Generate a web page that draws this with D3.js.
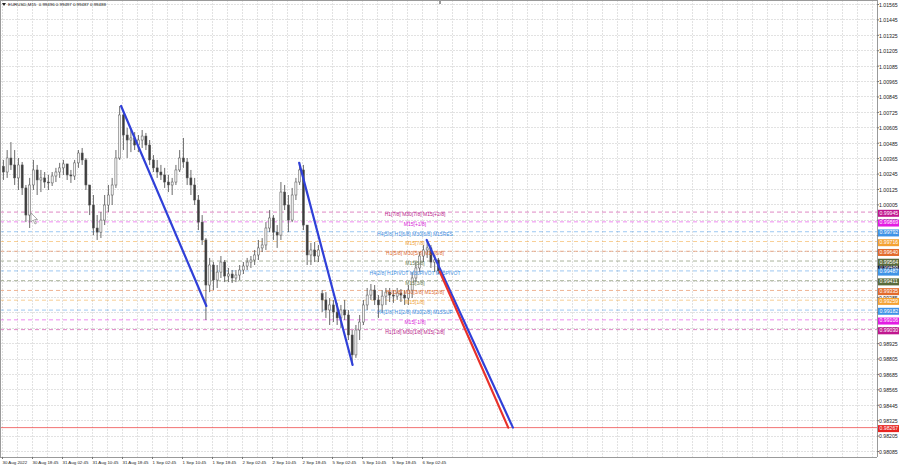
<!DOCTYPE html>
<html><head><meta charset="utf-8">
<script src="https://cdn.jsdelivr.net/npm/d3@7"></script>
<style>
html,body{margin:0;padding:0;background:#fff;overflow:hidden}
svg{display:block}
text{font-family:"Liberation Sans",Arial,sans-serif}
</style>
</head><body>
<svg id="c" width="900" height="468"></svg>
<script>
// ---------------- DATA ----------------
const symbolTitle = "EURUSD,M15  0.99496 0.99497 0.99487 0.99488";
const barsPerCandle = 4; // each drawn candle aggregates 4 M15 bars

const candleOpen = [
1.00300,1.00257,1.00366,1.00312,1.00211,1.00312,1.00133,0.99922,1.00156,1.00273,
1.00195,1.00211,1.00179,1.00172,1.00226,1.00257,1.00289,1.00320,1.00234,1.00226,
1.00328,1.00405,1.00351,1.00156,1.00000,0.99821,0.99789,0.99883,1.00000,1.00078,
1.00156,1.00366,1.00701,1.00545,1.00506,1.00522,1.00467,1.00506,1.00537,1.00467,
1.00351,1.00289,1.00257,1.00234,1.00179,1.00156,1.00179,1.00273,1.00366,1.00335,
1.00211,1.00156,1.00039,0.99867,0.99728,0.99377,0.99533,0.99416,0.99478,0.99556,
0.99447,0.99463,0.99432,0.99455,0.99494,0.99525,0.99556,0.99572,0.99611,0.99666,
0.99689,0.99821,0.99899,0.99789,0.99766,1.00101,1.00000,0.99883,1.00078,1.00179,
1.00273,0.99844,0.99611,0.99650,0.99603,0.99310,0.99261,0.99183,0.99222,0.99167,
0.99121,0.99183,0.99144,0.98988,0.98833,0.99027,0.99089,0.99222,0.99299,0.99338,
0.99261,0.99222,0.99291,0.99322,0.99299,0.99291,0.99315,0.99299,0.99276,0.99338,
0.99432,0.99510,0.99603,0.99650,0.99666,0.99556,0.99572];

const candleHigh = [
1.00351,1.00428,1.00490,1.00428,1.00366,1.00335,1.00156,1.00211,1.00351,1.00312,
1.00273,1.00257,1.00234,1.00257,1.00289,1.00328,1.00351,1.00312,1.00273,1.00351,
1.00428,1.00444,1.00366,1.00156,1.00078,0.99922,0.99945,1.00078,1.00156,1.00211,
1.00428,1.00771,1.00740,1.00600,1.00584,1.00568,1.00545,1.00584,1.00561,1.00506,
1.00389,1.00351,1.00312,1.00289,1.00234,1.00211,1.00312,1.00428,1.00522,1.00366,
1.00273,1.00211,1.00078,0.99922,0.99743,0.99588,0.99556,0.99533,0.99603,0.99572,
0.99510,0.99494,0.99494,0.99533,0.99556,0.99588,0.99603,0.99650,0.99728,0.99743,
0.99867,0.99961,0.99922,0.99844,1.00179,1.00156,1.00078,1.00133,1.00211,1.00335,
1.00312,0.99844,0.99705,0.99712,0.99689,0.99338,0.99322,0.99276,0.99261,0.99238,
0.99222,0.99261,0.99183,0.99027,0.99066,0.99144,0.99261,0.99354,0.99385,0.99377,
0.99299,0.99338,0.99354,0.99354,0.99338,0.99354,0.99346,0.99338,0.99377,0.99478,
0.99556,0.99634,0.99689,0.99728,0.99689,0.99611,0.99588];

const candleLow = [
1.00195,1.00211,1.00273,1.00156,1.00117,1.00078,0.99867,0.99821,1.00117,1.00078,
1.00101,1.00133,1.00117,1.00148,1.00179,1.00211,1.00234,1.00195,1.00172,1.00195,
1.00289,1.00312,1.00117,0.99922,0.99766,0.99728,0.99743,0.99844,0.99945,1.00000,
1.00133,1.00351,1.00428,1.00366,1.00412,1.00428,1.00412,1.00444,1.00428,1.00312,
1.00257,1.00211,1.00195,1.00133,1.00101,1.00078,1.00156,1.00257,1.00289,1.00156,
1.00078,1.00000,0.99805,0.99689,0.99105,0.99322,0.99338,0.99354,0.99432,0.99400,
0.99400,0.99393,0.99400,0.99416,0.99463,0.99494,0.99510,0.99533,0.99572,0.99634,
0.99650,0.99789,0.99728,0.99666,0.99728,0.99961,0.99789,0.99867,1.00039,1.00156,
0.99805,0.99533,0.99533,0.99556,0.99556,0.99167,0.99121,0.99066,0.99089,0.99066,
0.99043,0.99105,0.98949,0.98755,0.98810,0.98949,0.99066,0.99183,0.99261,0.99222,
0.99121,0.99167,0.99222,0.99245,0.99238,0.99261,0.99245,0.99222,0.99222,0.99276,
0.99400,0.99478,0.99556,0.99588,0.99510,0.99478,0.99463];

const candleClose = [
1.00257,1.00366,1.00312,1.00211,1.00312,1.00133,0.99922,1.00156,1.00273,1.00195,
1.00211,1.00179,1.00172,1.00226,1.00257,1.00289,1.00320,1.00234,1.00226,1.00328,
1.00405,1.00351,1.00156,1.00000,0.99821,0.99789,0.99883,1.00000,1.00078,1.00156,
1.00366,1.00701,1.00545,1.00506,1.00522,1.00467,1.00506,1.00537,1.00467,1.00351,
1.00289,1.00257,1.00234,1.00179,1.00156,1.00179,1.00273,1.00366,1.00335,1.00211,
1.00156,1.00039,0.99867,0.99728,0.99377,0.99533,0.99416,0.99478,0.99556,0.99447,
0.99463,0.99432,0.99455,0.99494,0.99525,0.99556,0.99572,0.99611,0.99666,0.99689,
0.99821,0.99899,0.99789,0.99766,1.00101,1.00000,0.99883,1.00078,1.00179,1.00273,
0.99844,0.99611,0.99650,0.99603,0.99650,0.99261,0.99183,0.99222,0.99167,0.99121,
0.99183,0.99144,0.98988,0.98833,0.99027,0.99089,0.99222,0.99299,0.99338,0.99261,
0.99222,0.99291,0.99322,0.99299,0.99291,0.99315,0.99299,0.99276,0.99338,0.99432,
0.99510,0.99603,0.99650,0.99666,0.99556,0.99572,0.99488];

const timeLabels = ["30 Aug 2022","30 Aug 18:45","31 Aug 02:45","31 Aug 10:45","31 Aug 18:45",
"1 Sep 02:45","1 Sep 10:45","1 Sep 18:45","2 Sep 02:45","2 Sep 10:45","2 Sep 18:45",
"5 Sep 02:45","5 Sep 10:45","5 Sep 18:45","6 Sep 02:45"];
const barsPerTimeLabel = 32;

const priceTicks = [1.01565,1.01445,1.01325,1.01205,1.01085,1.00965,1.00845,1.00725,1.00605,1.00485,
1.00365,1.00245,1.00125,1.00005,0.99885,0.99765,0.99645,0.99525,0.99405,0.99285,
0.99165,0.99045,0.98925,0.98805,0.98685,0.98565,0.98445,0.98325,0.98205,0.98085];
// tick labels that are hidden behind the coloured price boxes in the reference
const hiddenTickLabels = [0.99765,0.99645,0.99525,0.99405,0.99165];

const levelPrices = [0.99945,0.99869,0.99792,0.99716,0.99640,0.99564,0.99487,0.99411,0.99335,0.99259,0.99182,0.99106,0.99030];
const levelNames = ["H1[7/8] M30[7/8] M15[+2/8]","M15[+1/8]","H4[5/8] H1[6/8] M30[6/8] M15RES","M15[7/8]",
"H1[5/8] M30[5/8] M15[6/8]","M15[5/8]","H4[2/8] H1PIVOT M30PIVOT M15PIVOT","M15[3/8]",
"H1[3/8] M30[3/8] M15[2/8]","M15[1/8]","H4[1/8] H1[2/8] M30[2/8] M15SUP","M15[-1/8]","H1[1/8] M30[1/8] M15[-2/8]"];
const levelGroup = ["outer2","outer1","key","m15a","mix","m15b","key","m15b","mix","m15a","key","outer1","outer2"];

const bidPrice = 0.99488;
const targetPrice = 0.98267;

// trend lines: [bar index, price]
const trendLines = [
  {kind:"down", from:[127,1.00771], to:[218,0.99214]},
  {kind:"down", from:[317,1.00328], to:[374,0.98755]},
  {kind:"down", from:[453,0.99728], to:[545,0.98267]},
  {kind:"proj", from:[467,0.99481], to:[540,0.98267]}
];

// ---------------- STYLE ----------------
const groupColor = {outer2:"#c0178e", outer1:"#e31ce3", key:"#3f93e6", m15a:"#f4a232", mix:"#e26b2c", m15b:"#5a6b3b"};
const groupText  = {outer2:"#b8208a", outer1:"#d623d6", key:"#3f8ee0", m15a:"#eea23c", mix:"#dc6a30", m15b:"#6a7a50"};
const trendColor = {down:"#3040d8", proj:"#e8322b"};

// ---------------- DRAW ----------------
const plotRight = 877, plotBottom = 457;
const svg = d3.select("#c");

const y = d3.scaleLinear().domain([1.01565, 0.98085]).range([4, 451]);
const barPx = 30 / 32;
const x = d3.scaleLinear().domain([0, 932]).range([2, 2 + 932 * barPx]);

svg.append("defs").append("clipPath").attr("id","plot")
  .append("rect").attr("x",0).attr("y",0).attr("width",plotRight).attr("height",plotBottom);

// grid (light dotted, like MT4)
const grid = svg.append("g").attr("shape-rendering","crispEdges");
grid.selectAll("line.h").data(priceTicks).join("line")
  .attr("x1",0).attr("x2",plotRight).attr("y1",d=>Math.round(y(d))+0.5).attr("y2",d=>Math.round(y(d))+0.5)
  .attr("stroke","#e2e2e2").attr("stroke-width",1).attr("stroke-dasharray","2,1");
const vg = d3.range(0, 932, 16);
grid.selectAll("line.v").data(vg).join("line")
  .attr("x1",d=>Math.round(x(d))+0.5).attr("x2",d=>Math.round(x(d))+0.5).attr("y1",0).attr("y2",plotBottom)
  .attr("stroke","#e2e2e2").attr("stroke-width",1).attr("stroke-dasharray","2,1");

// level lines
const plot = svg.append("g").attr("clip-path","url(#plot)");
plot.selectAll("line.lvl").data(levelPrices).join("line")
  .attr("x1",0).attr("x2",plotRight).attr("y1",d=>y(d)).attr("y2",d=>y(d))
  .attr("stroke",(d,i)=>groupColor[levelGroup[i]]).attr("stroke-width",1)
  .attr("stroke-dasharray","4,3").attr("opacity",0.5);

// target line
plot.append("line").attr("x1",0).attr("x2",plotRight).attr("y1",y(targetPrice)).attr("y2",y(targetPrice))
  .attr("stroke","#f05050").attr("stroke-width",1).attr("opacity",0.8);

// candles
const candles = candleClose.map((c,i)=>({i, o:candleOpen[i], h:candleHigh[i], l:candleLow[i], c}));
const cg = plot.append("g");
const bw = barsPerCandle * barPx * 0.55;
cg.selectAll("line.wick").data(candles).join("line")
  .attr("x1",d=>x(d.i*barsPerCandle+1.5)).attr("x2",d=>x(d.i*barsPerCandle+1.5))
  .attr("y1",d=>y(d.h)).attr("y2",d=>y(d.l))
  .attr("stroke","#5a5a5a").attr("stroke-width",0.9);
cg.selectAll("rect.body").data(candles).join("rect")
  .attr("x",d=>x(d.i*barsPerCandle+1.5)-bw/2).attr("width",bw)
  .attr("y",d=>Math.min(y(d.o),y(d.c))).attr("height",d=>Math.max(0.8,Math.abs(y(d.o)-y(d.c))))
  .attr("fill",d=>d.c>=d.o?"#f4f4f4":"#3c3c3c").attr("stroke","#555").attr("stroke-width",0.5);

// level names
plot.selectAll("text.lvl").data(levelPrices).join("text")
  .attr("x",415).attr("y",d=>y(d)+2.6).attr("text-anchor","middle").attr("dominant-baseline","middle")
  .attr("font-size",5).attr("fill",(d,i)=>groupText[levelGroup[i]]).text((d,i)=>levelNames[i]);

// trend lines
plot.selectAll("line.tr").data(trendLines).join("line")
  .attr("x1",d=>x(d.from[0])).attr("y1",d=>y(d.from[1]))
  .attr("x2",d=>x(d.to[0])).attr("y2",d=>y(d.to[1]))
  .attr("stroke",d=>trendColor[d.kind]).attr("stroke-width",2.2).attr("stroke-linecap","round");

// cursor arrow
plot.append("path").attr("d","M31,213 L31,222 L33.2,220 L35,224 L36.4,223.3 L34.7,219.5 L37.5,219.5 Z")
  .attr("fill","#fff").attr("stroke","#8a8a8a").attr("stroke-width",0.7);

// frame
const frame = svg.append("g").attr("shape-rendering","crispEdges");
frame.append("line").attr("x1",0).attr("x2",plotRight).attr("y1",0.5).attr("y2",0.5).attr("stroke","#9a9a9a");
frame.append("line").attr("x1",0.5).attr("x2",0.5).attr("y1",0).attr("y2",plotBottom).attr("stroke","#9a9a9a");
frame.append("line").attr("x1",plotRight+0.5).attr("x2",plotRight+0.5).attr("y1",0).attr("y2",plotBottom).attr("stroke","#9a9a9a");
frame.append("line").attr("x1",0).attr("x2",plotRight).attr("y1",plotBottom+0.5).attr("y2",plotBottom+0.5).attr("stroke","#9a9a9a");
frame.append("rect").attr("x",439).attr("y",0).attr("width",2).attr("height",4).attr("fill","#9a9a9a");

// right axis
const ra = svg.append("g").attr("transform",`translate(${plotRight},0)`)
  .call(d3.axisRight(y).tickValues(priceTicks).tickSize(2)
    .tickFormat(d=>hiddenTickLabels.includes(d)?"":d3.format(".5f")(d)));
ra.select(".domain").remove();
ra.selectAll(".tick line").attr("stroke","#777");
ra.selectAll(".tick text").attr("x",2).attr("dy",null).attr("y",1).attr("dominant-baseline","middle")
  .attr("font-size",5.2).attr("fill","#222").attr("font-family","Liberation Sans, Arial, sans-serif");

// bottom axis
const timeBars = timeLabels.map((t,i)=>i*barsPerTimeLabel);
const ba = svg.append("g").attr("transform",`translate(0,${plotBottom})`)
  .call(d3.axisBottom(x).tickValues(timeBars).tickSize(2).tickFormat((d,i)=>timeLabels[i]));
ba.select(".domain").remove();
ba.selectAll(".tick line").attr("stroke","#777");
ba.selectAll(".tick text").attr("text-anchor","start").attr("y",6).attr("dy",null).attr("dominant-baseline","middle")
  .attr("font-size",4.4).attr("fill","#222").attr("font-family","Liberation Sans, Arial, sans-serif");

// price boxes on right axis
const boxes = svg.append("g");
function priceBox(p, yc, fill, label){
  boxes.append("rect").attr("x",plotRight+1).attr("y",yc-3.5).attr("width",21).attr("height",7).attr("fill",fill);
  boxes.append("text").attr("x",plotRight+2.5).attr("y",yc).attr("dominant-baseline","middle")
    .attr("font-size",5.2).attr("fill","#fff").text(label);
}
priceBox(bidPrice, y(bidPrice)-2.8, "#151a3a", d3.format(".5f")(bidPrice));
levelPrices.forEach((p,i)=>priceBox(p, y(p)+1.2, groupColor[levelGroup[i]], d3.format(".5f")(p)));
priceBox(targetPrice, y(targetPrice)+1, "#e8231f", d3.format(".5f")(targetPrice));

// title
svg.append("path").attr("d","M2,3 L6,3 L4,6 Z").attr("fill","#222");
svg.append("text").attr("x",8).attr("y",5).attr("dominant-baseline","middle")
  .attr("font-size",4.4).attr("fill","#111").attr("xml:space","preserve").text(symbolTitle);
</script>
</body></html>
